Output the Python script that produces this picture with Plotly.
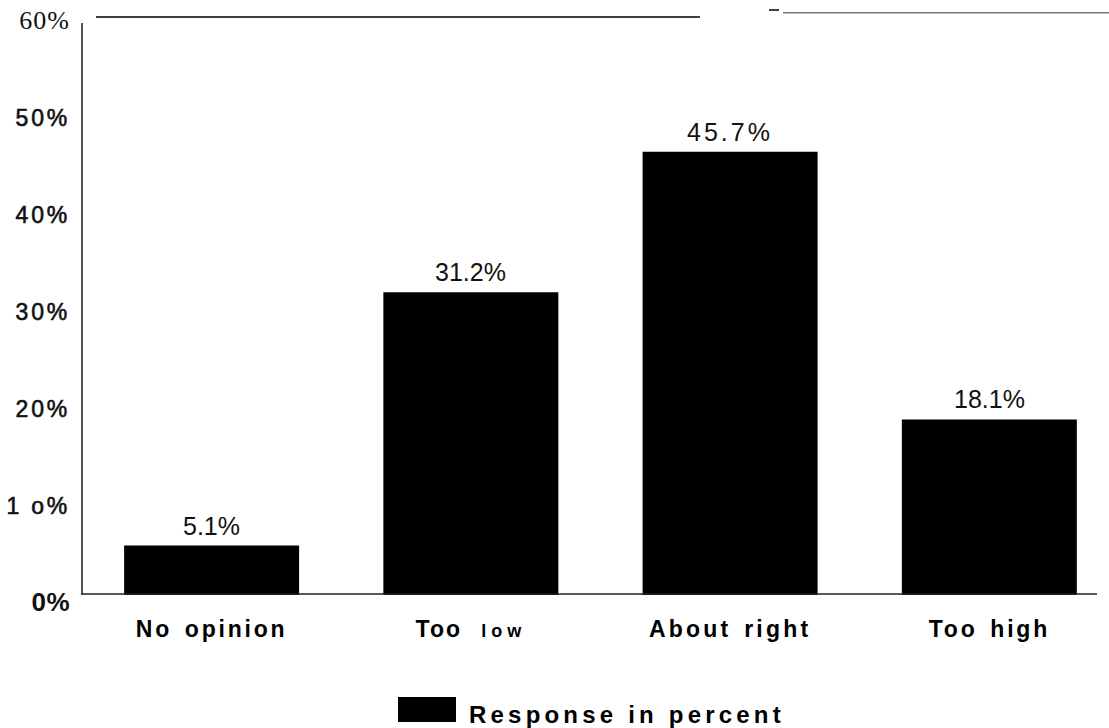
import plotly.graph_objects as go

categories = ["No opinion", "Too low", "About right", "Too high"]
value_labels = ["5.1%", "31.2%", "45.7%", "18.1%"]
values = [5.1, 31.2, 45.7, 18.1]
tick_values = [0, 10, 20, 30, 40, 50, 60]
tick_labels = ["0%", "1 o%", "20%", "30%", "40%", "50%", "60%"]
series_name = "Response in percent"

L, R, T, B = 82, 1106, 13, 595
W, H = 1109, 728
FONT = "Liberation Sans"


def sp(txt, ls, extra=""):
    return f"<span style='letter-spacing:{ls}px;{extra}'>{txt}</span>"


THICK = "stroke:#111111;stroke-width:0.6px;"

cat_text = [
    "<b>" + sp("No", 2.8) + "  " + sp("opinion", 2.8) + "</b>",
    "<b>" + sp("Too", 2.0) + "   " + sp("low", 5, "font-size:18px") + "</b>",
    "<b>" + sp("About", 3.2) + "  " + sp("right", 3.2) + "</b>",
    "<b>" + sp("Too", 2.8) + "  " + sp("high", 2.8) + "</b>",
]

y_text = []
for t in tick_labels:
    if t == "0%":
        y_text.append("<b>" + sp(t, 0.5, "font-size:26px") + "</b>")
    elif t == "60%":
        y_text.append(sp(t, 1, "font-family:Liberation Serif;font-size:26px"))
    else:
        y_text.append(sp(t, 2.8, THICK))

fig = go.Figure()
fig.add_trace(go.Bar(
    x=categories, y=values, width=0.675,
    marker=dict(color="black", line=dict(width=0)),
    name=series_name, showlegend=False,
))

fig.update_layout(
    width=W, height=H,
    margin=dict(l=L, r=W - R, t=T, b=H - B, pad=0),
    paper_bgcolor="white", plot_bgcolor="white",
    xaxis=dict(
        range=[-0.5, 3.45], showgrid=False, zeroline=False, showline=False,
        tickvals=categories, ticktext=cat_text,
        tickfont=dict(family=FONT, size=23, color="black"),
        ticks="", ticklabelstandoff=18,
    ),
    yaxis=dict(
        range=[0, 60], showgrid=False, zeroline=False, showline=False,
        tickvals=tick_values, ticktext=y_text,
        tickfont=dict(family=FONT, size=23, color="#111111"),
        ticks="", ticklabelstandoff=11, ticklabelshift=8,
    ),
    font=dict(family=FONT, color="black"),
)

spacing = [0, 0, 3, 0]
for c, v, lab, s in zip(categories, values, value_labels, spacing):
    fig.add_annotation(
        x=c, y=v, xref="x", yref="y", yanchor="bottom", yshift=4,
        showarrow=False, text=sp(lab, s),
        font=dict(family=FONT, size=25, color="#111111"),
    )

pw = R - L
ph = B - T


def px(xp):
    return (xp - L) / pw


def py(yp):
    return (B - yp) / ph


shapes = [
    dict(type="line", xref="paper", yref="paper", x0=0, x1=0, y0=0, y1=py(23),
         line=dict(color="#555555", width=2)),
    dict(type="line", xref="paper", yref="paper", x0=0, x1=px(1097), y0=py(594), y1=py(594),
         line=dict(color="#222222", width=1.5)),
    dict(type="line", xref="paper", yref="paper", x0=px(96), x1=px(700), y0=py(17), y1=py(17),
         line=dict(color="black", width=1.3)),
    dict(type="line", xref="paper", yref="paper", x0=px(769), x1=px(779), y0=py(10), y1=py(10),
         line=dict(color="black", width=1.5)),
    dict(type="line", xref="paper", yref="paper", x0=px(783), x1=px(1109), y0=py(12.7), y1=py(12.7),
         line=dict(color="#777777", width=1.5)),
    dict(type="rect", xref="paper", yref="paper", x0=px(398), x1=px(456),
         y0=py(722), y1=py(697), fillcolor="black", line=dict(width=0)),
]
fig.update_layout(shapes=shapes)

fig.add_annotation(
    xref="paper", yref="paper", x=px(467), y=py(714),
    xanchor="left", yanchor="middle", showarrow=False,
    text="<b>" + sp(series_name, 4.2) + "</b>",
    font=dict(family=FONT, size=24, color="black"),
)

fig.write_html("out.html", config={"displayModeBar": False},
               post_script="document.body.style.margin='0px';")
